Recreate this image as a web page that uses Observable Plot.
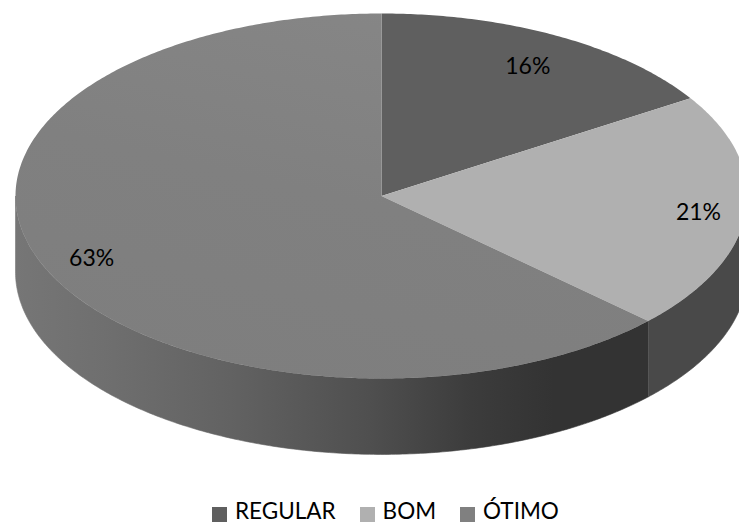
<!DOCTYPE html>
<html lang="pt">
<head>
<meta charset="utf-8">
<title>REGULAR, BOM, ÓTIMO</title>
<script src="https://cdn.jsdelivr.net/npm/d3@7"></script>
<script src="https://cdn.jsdelivr.net/npm/@observablehq/plot@0.6"></script>
<style>
  html, body { margin: 0; padding: 0; background: #fff; }
  svg { display: block; }
  .legend {
    height: 27px; display: flex; align-items: center;
    padding-left: 212px; font: 22.5px Lato, sans-serif; color: #000; line-height: 27px;
  }
  .legend i { display: inline-block; width: 15px; height: 15px; margin-right: 8px; position: relative; top: 4px; }
  .legend span { display: inline-flex; align-items: center; margin-right: 24px; white-space: nowrap; }
</style>
</head>
<body>
<div id="chart"></div>
<script>
const categories = ["REGULAR", "BOM", "ÓTIMO"];
const shares = [16, 21, 63];

const topColors = ["#5f5f5f", "#b0b0b0", "url(#otimoTop)"];
const rimColors = ["#404040", "#494949", "url(#otimoRim)"];
const swatchColors = ["#5f5f5f", "#b0b0b0", "#808080"];

// The disc lives in unit coordinates; the rim hangs below it by this much.
const thickness = 0.416;
// How far out along each slice's middle angle its label sits, horizontally and vertically.
const labelReach = [[0.83, 0.82], [0.87, 0.88], [0.863, 0.835]];

const total = d3.sum(shares);
const toAngle = (v) => (v / total) * 2 * Math.PI; // clockwise from twelve o'clock

let running = 0;
const slices = categories.map((name, i) => {
  const start = toAngle(running);
  running += shares[i];
  return {
    name, share: shares[i], start, end: toAngle(running),
    top: topColors[i], rim: rimColors[i], reach: labelReach[i]
  };
});

const onDisc = (a, r = 1, drop = 0) => ({ x: r * Math.sin(a), y: r * Math.cos(a) - drop });
const sweep = (a0, a1) => {
  const n = Math.max(2, Math.ceil((a1 - a0) / 0.01));
  return d3.range(n + 1).map((k) => a0 + ((a1 - a0) * k) / n);
};

// Flat wedge on top of the disc.
const wedge = (s) => [{ x: 0, y: 0 }, ...sweep(s.start, s.end).map((a) => onDisc(a))];

// Visible wall of a slice: only the front half of the disc, from 90° to 270°.
const wall = (s) => {
  const a0 = Math.max(s.start, Math.PI / 2);
  const a1 = Math.min(s.end, (3 * Math.PI) / 2);
  if (a1 <= a0) return null;
  const angles = sweep(a0, a1);
  return [
    ...angles.map((a) => onDisc(a)),
    ...angles.slice().reverse().map((a) => onDisc(a, 1, thickness))
  ];
};

const gradients = () => {
  const defs = d3.create("svg:defs");
  const add = (id, [x1, y1, x2, y2], stops) => {
    const g = defs.append("linearGradient").attr("id", id)
      .attr("x1", x1).attr("y1", y1).attr("x2", x2).attr("y2", y2);
    stops.forEach(([o, c]) => g.append("stop").attr("offset", o).attr("stop-color", c));
  };
  add("otimoRim", [0, 0, 1, 0], [
    [0, "#767676"], [0.14, "#6f6f6f"], [0.34, "#626262"], [0.56, "#4f4f4f"],
    [0.72, "#3c3c3c"], [0.85, "#333333"], [1, "#333333"]
  ]);
  add("otimoTop", [0.7, 0, 0.3, 1], [
    [0, "#868686"], [0.5, "#808080"], [1, "#7e7e7e"]
  ]);
  return defs.node();
};

const chart = Plot.plot({
  width: 739,
  height: 497,
  margin: 0,
  x: { domain: [-1, 1], range: [15, 747], axis: null },
  y: { domain: [-1, 1], range: [378, 13], axis: null },
  marks: [
    gradients,
    // A hairline in the wall's own colour closes the seam between neighbouring walls.
    ...slices.filter(wall).map((s) =>
      Plot.line(wall(s), { x: "x", y: "y", fill: s.rim, stroke: s.rim, strokeWidth: 0.6 })
    ),
    ...slices.map((s) =>
      Plot.line(wedge(s), { x: "x", y: "y", fill: s.top, stroke: "none" })
    ),
    Plot.text(slices, {
      x: (s) => onDisc((s.start + s.end) / 2, s.reach[0]).x,
      y: (s) => onDisc((s.start + s.end) / 2, s.reach[1]).y,
      text: (s) => `${s.share}%`,
      dy: 2,
      fontFamily: "Lato, sans-serif",
      fontSize: 23,
      fill: "#000"
    })
  ]
});

document.getElementById("chart").append(chart);

const legend = d3.select("#chart").append("div").attr("class", "legend");
categories.forEach((name, i) => {
  const item = legend.append("span");
  item.append("i").style("background", swatchColors[i]);
  item.append("b").style("font-weight", "400").text(name);
});
</script>
</body>
</html>
